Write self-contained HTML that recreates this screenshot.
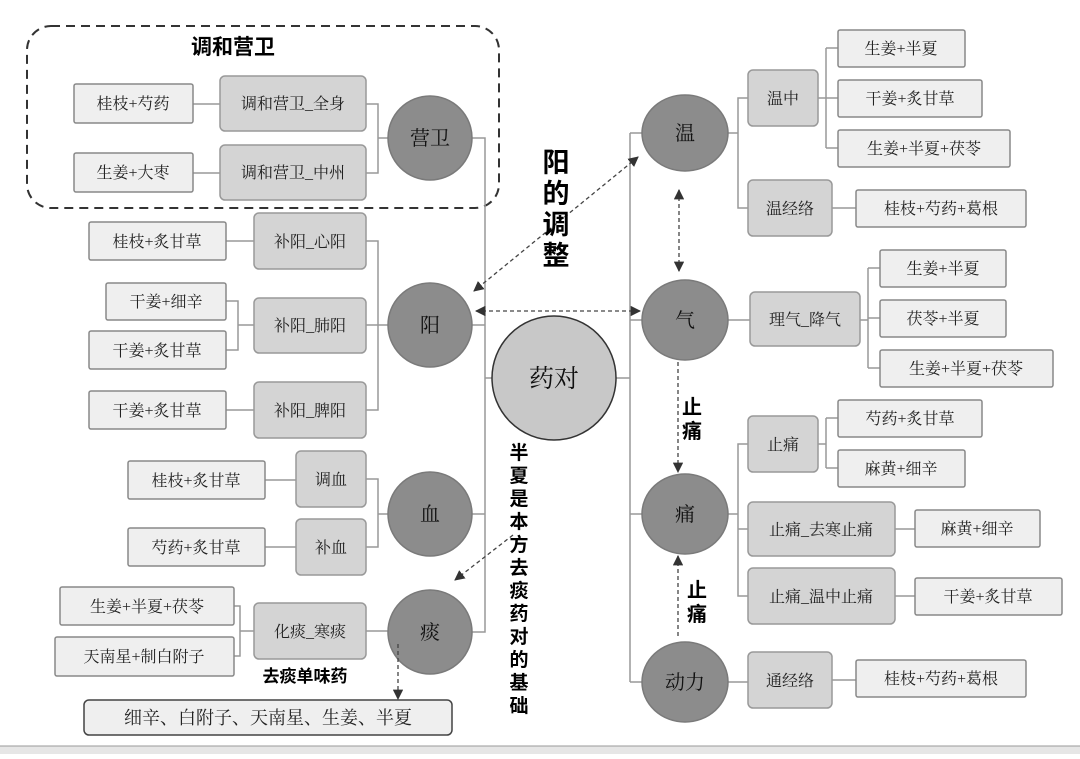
<!DOCTYPE html>
<html><head><meta charset="utf-8"><style>
body{margin:0;background:#fff;}
svg text{font-family:"Liberation Serif","Noto Serif CJK SC",serif;}
svg .b text, svg text.b{font-family:"Liberation Sans","Noto Sans CJK SC","WenQuanYi Zen Hei",sans-serif;font-weight:bold;fill:#000;}
</style></head><body>
<svg width="1080" height="754" viewBox="0 0 1080 754" xmlns="http://www.w3.org/2000/svg">
<defs>
<marker id="ah" viewBox="0 0 10 10" refX="9" refY="5" markerWidth="8" markerHeight="8" orient="auto-start-reverse"><path d="M0,0 L10,5 L0,10 z" fill="#333"/></marker>
</defs>
<rect x="27" y="26" width="472" height="182" rx="24" fill="none" stroke="#333" stroke-width="2" stroke-dasharray="9,6"/>
<text x="233" y="54" class="b" font-size="21" text-anchor="middle">调和营卫</text>

<g fill="none" stroke="#999" stroke-width="1.5">
<path d="M472,138 H485 V632 H472"/>
<path d="M472,325 H485 M472,514 H485 M485,378 H493"/>
<path d="M616,378 H630"/>
<path d="M630,133 V682 M630,133 H642 M630,320 H642 M630,514 H642 M630,682 H642"/>
<path d="M366,104 H378 V173 H366 M378,138 H388 M193,104 H220 M193,173 H220"/>
<path d="M366,241 H378 V410 H366 M366,325 H388 M226,241 H254 M226,410 H254 M226,301 H238 V350 H226 M238,325 H254"/>
<path d="M366,479 H378 V547 H366 M378,514 H388 M265,480 H296 M265,547 H296"/>
<path d="M366,631 H388 M234,606 H240 V656 H234 M240,631 H254"/>
<path d="M728,133 H738 V98 H748 M738,133 V208 H748 M818,98 H826 M826,48 V148 M826,48 H838 M826,98 H838 M826,148 H838 M832,208 H856"/>
<path d="M728,320 H750 M860,320 H868 M868,268 V368 M868,268 H880 M868,318 H880 M868,368 H880"/>
<path d="M728,514 H738 V444 H748 M738,529 H748 M738,514 V596 H748 M818,444 H826 M826,418 V468 M826,418 H838 M826,468 H838 M895,529 H915 M895,596 H915"/>
<path d="M728,682 H748 M832,680 H856"/>
</g>

<g fill="#8c8c8c" stroke="#7a7a7a" stroke-width="1.5">
<circle cx="430" cy="138" r="42"/>
<circle cx="430" cy="325" r="42"/>
<circle cx="430" cy="514" r="42"/>
<circle cx="430" cy="632" r="42"/>
<ellipse cx="685" cy="133" rx="43" ry="38"/>
<ellipse cx="685" cy="320" rx="43" ry="40"/>
<ellipse cx="685" cy="514" rx="43" ry="40"/>
<ellipse cx="685" cy="682" rx="43" ry="40"/>
</g>
<circle cx="554" cy="378" r="62" fill="#c8c8c8" stroke="#333" stroke-width="1.5"/>
<g font-size="20" text-anchor="middle" fill="#111">
<text x="430" y="145">营卫</text>
<text x="430" y="332">阳</text>
<text x="430" y="521">血</text>
<text x="430" y="639">痰</text>
<text x="685" y="140">温</text>
<text x="685" y="327">气</text>
<text x="685" y="521">痛</text>
<text x="685" y="689">动力</text>
<text x="554" y="387" font-size="25">药对</text>
</g>

<g fill="#d4d4d4" stroke="#999" stroke-width="1.5">
<rect x="220" y="76" width="146" height="55" rx="5"/>
<rect x="220" y="145" width="146" height="55" rx="5"/>
<rect x="254" y="213" width="112" height="56" rx="5"/>
<rect x="254" y="298" width="112" height="55" rx="5"/>
<rect x="254" y="382" width="112" height="56" rx="5"/>
<rect x="296" y="451" width="70" height="56" rx="5"/>
<rect x="296" y="519" width="70" height="56" rx="5"/>
<rect x="254" y="603" width="112" height="56" rx="5"/>
<rect x="748" y="70" width="70" height="56" rx="5"/>
<rect x="748" y="180" width="84" height="56" rx="5"/>
<rect x="750" y="292" width="110" height="54" rx="5"/>
<rect x="748" y="416" width="70" height="56" rx="5"/>
<rect x="748" y="502" width="147" height="54" rx="5"/>
<rect x="748" y="568" width="147" height="56" rx="5"/>
<rect x="748" y="652" width="84" height="56" rx="5"/>
</g>
<g font-size="16" text-anchor="middle" fill="#222">
<text x="293" y="109">调和营卫_全身</text>
<text x="293" y="178">调和营卫_中州</text>
<text x="310" y="247">补阳_心阳</text>
<text x="310" y="331">补阳_肺阳</text>
<text x="310" y="416">补阳_脾阳</text>
<text x="331" y="485">调血</text>
<text x="331" y="553">补血</text>
<text x="310" y="637">化痰_寒痰</text>
<text x="783" y="104">温中</text>
<text x="790" y="214">温经络</text>
<text x="805" y="325">理气_降气</text>
<text x="783" y="450">止痛</text>
<text x="821" y="535">止痛_去寒止痛</text>
<text x="821" y="602">止痛_温中止痛</text>
<text x="790" y="686">通经络</text>
</g>

<g fill="#efefef" stroke="#888" stroke-width="1.5">
<rect x="74" y="84" width="119" height="39" rx="2"/>
<rect x="74" y="153" width="119" height="39" rx="2"/>
<rect x="89" y="222" width="137" height="38" rx="2"/>
<rect x="106" y="283" width="120" height="37" rx="2"/>
<rect x="89" y="331" width="137" height="38" rx="2"/>
<rect x="89" y="391" width="137" height="38" rx="2"/>
<rect x="128" y="461" width="137" height="38" rx="2"/>
<rect x="128" y="528" width="137" height="38" rx="2"/>
<rect x="60" y="587" width="174" height="38" rx="2"/>
<rect x="55" y="637" width="179" height="39" rx="2"/>
<rect x="838" y="30" width="127" height="37" rx="2"/>
<rect x="838" y="80" width="144" height="37" rx="2"/>
<rect x="838" y="130" width="172" height="37" rx="2"/>
<rect x="856" y="190" width="170" height="37" rx="2"/>
<rect x="880" y="250" width="126" height="37" rx="2"/>
<rect x="880" y="300" width="126" height="37" rx="2"/>
<rect x="880" y="350" width="173" height="37" rx="2"/>
<rect x="838" y="400" width="144" height="37" rx="2"/>
<rect x="838" y="450" width="127" height="37" rx="2"/>
<rect x="915" y="510" width="125" height="37" rx="2"/>
<rect x="915" y="578" width="147" height="37" rx="2"/>
<rect x="856" y="660" width="170" height="37" rx="2"/>
</g>
<rect x="84" y="700" width="368" height="35" rx="5" fill="#efefef" stroke="#444" stroke-width="1.5"/>
<g font-size="16" text-anchor="middle" fill="#222">
<text x="133" y="109">桂枝+芍药</text>
<text x="133" y="178">生姜+大枣</text>
<text x="157" y="247">桂枝+炙甘草</text>
<text x="166" y="307">干姜+细辛</text>
<text x="157" y="356">干姜+炙甘草</text>
<text x="157" y="416">干姜+炙甘草</text>
<text x="196" y="486">桂枝+炙甘草</text>
<text x="196" y="553">芍药+炙甘草</text>
<text x="147" y="612">生姜+半夏+茯苓</text>
<text x="144" y="662">天南星+制白附子</text>
<text x="901" y="54">生姜+半夏</text>
<text x="910" y="104">干姜+炙甘草</text>
<text x="924" y="154">生姜+半夏+茯苓</text>
<text x="941" y="214">桂枝+芍药+葛根</text>
<text x="943" y="274">生姜+半夏</text>
<text x="943" y="324">茯苓+半夏</text>
<text x="966" y="374">生姜+半夏+茯苓</text>
<text x="910" y="424">芍药+炙甘草</text>
<text x="901" y="474">麻黄+细辛</text>
<text x="977" y="534">麻黄+细辛</text>
<text x="988" y="602">干姜+炙甘草</text>
<text x="941" y="684">桂枝+芍药+葛根</text>
<text x="268" y="724" font-size="18">细辛、白附子、天南星、生姜、半夏</text>
</g>

<g stroke="#444" stroke-width="1.3" stroke-dasharray="4,3" fill="none">
<path d="M638,157 L474,291" marker-start="url(#ah)" marker-end="url(#ah)"/>
<path d="M640,311 L476,311" marker-start="url(#ah)" marker-end="url(#ah)"/>
<path d="M679,190 L679,271" marker-start="url(#ah)" marker-end="url(#ah)"/>
<path d="M678,362 L678,472" marker-end="url(#ah)"/>
<path d="M678,636 L678,556" marker-end="url(#ah)"/>
<path d="M513,535 L455,580" marker-end="url(#ah)"/>
<path d="M398,644 L398,699" marker-end="url(#ah)"/>
</g>

<g class="b" font-size="27" text-anchor="middle">
<text x="556" y="172">阳</text>
<text x="556" y="203">的</text>
<text x="556" y="234">调</text>
<text x="556" y="265">整</text>
</g>
<g class="b" font-size="20" text-anchor="middle">
<text x="692" y="414">止</text>
<text x="692" y="438">痛</text>
<text x="697" y="597">止</text>
<text x="697" y="621">痛</text>
<text x="305" y="682" font-size="17">去痰单味药</text>
</g>
<g class="b" font-size="19" text-anchor="middle">
<text x="519" y="459">半</text>
<text x="519" y="482">夏</text>
<text x="519" y="505">是</text>
<text x="519" y="528">本</text>
<text x="519" y="551">方</text>
<text x="519" y="574">去</text>
<text x="519" y="597">痰</text>
<text x="519" y="620">药</text>
<text x="519" y="643">对</text>
<text x="519" y="666">的</text>
<text x="519" y="689">基</text>
<text x="519" y="712">础</text>
</g>
<rect x="0" y="746" width="1080" height="8" fill="#e6e6e6"/>
<line x1="0" y1="746" x2="1080" y2="746" stroke="#999" stroke-width="1"/>
</svg>
</body></html>
